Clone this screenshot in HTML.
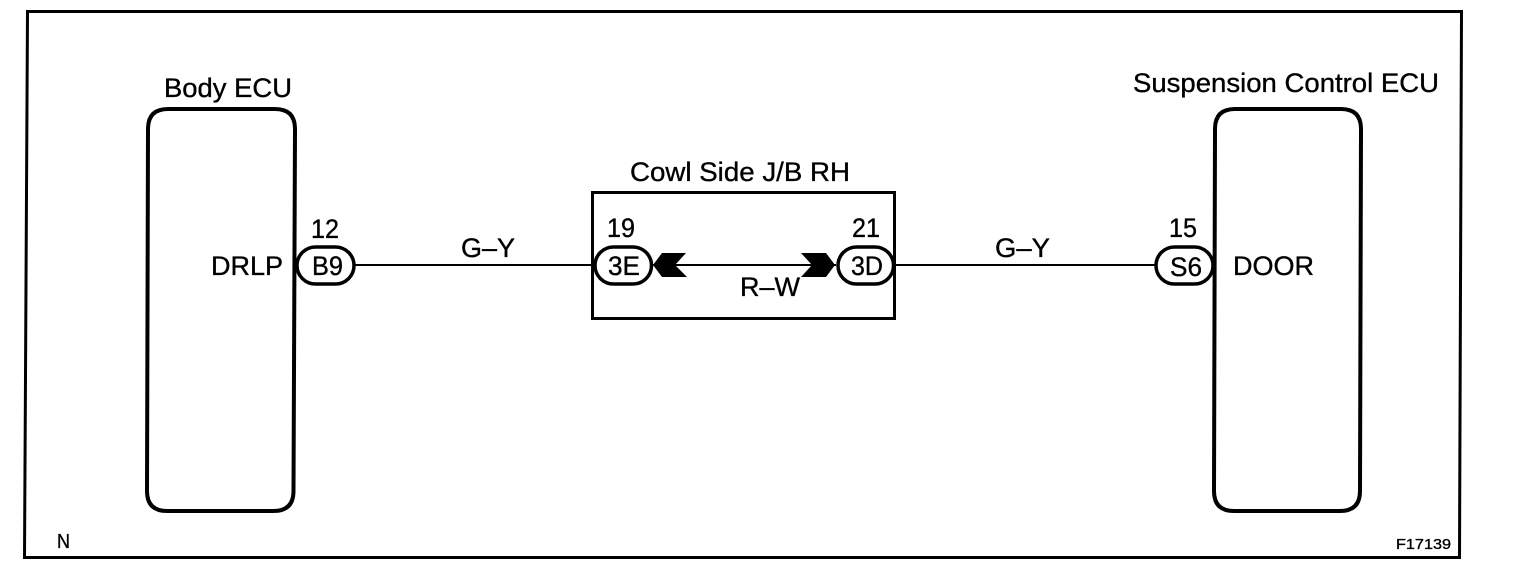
<!DOCTYPE html>
<html><head><meta charset="utf-8"><style>
html,body{margin:0;padding:0;background:#fff;width:1520px;height:574px;overflow:hidden}
svg{display:block}
text{font-family:"Liberation Sans",sans-serif;fill:#000;font-size:26.500px;stroke:#000;stroke-width:.35px}
</style></head><body>
<svg width="1520" height="574" viewBox="0 0 1520 574" xmlns="http://www.w3.org/2000/svg">
<rect width="1520" height="574" fill="#fff"/>
<g fill="none" stroke="#000">
<polygon points="27.500,11.500 1461.500,11.500 1459.500,557.500 24.500,557.500" stroke-width="3"/>
<path d="M168 109H275Q295 109 295 129L293.500 491Q293.500 511 273.500 511H167Q147 511 147 491L148 129Q148 109 168 109Z" stroke-width="4"/>
<path d="M1235 109H1341Q1361 109 1361 129L1360 491Q1360 511 1340 511H1234Q1214 511 1214 491L1215 129Q1215 109 1235 109Z" stroke-width="4"/>
<rect x="592.500" y="192.500" width="302" height="126" stroke-width="3"/>
<path d="M354 265H593M653 265H836M895 265H1155" stroke-width="2"/>
<rect x="297" y="247" width="57" height="37" rx="18.500" fill="#fff" stroke-width="3.500"/>
<rect x="595" y="247" width="56.500" height="37" rx="18.500" fill="#fff" stroke-width="3.500"/>
<rect x="838" y="247" width="55.500" height="37" rx="18.500" fill="#fff" stroke-width="3.500"/>
<rect x="1156" y="247" width="57" height="37" rx="18.500" fill="#fff" stroke-width="3.500"/>
</g>
<polygon points="653,265 662,253 686,253 675,265 687,277 662,277" fill="#000"/>
<polygon points="835,265 826,253 801,253 812,265 801,277 826,277" fill="#000"/>
<text x="164" y="97" textLength="128" lengthAdjust="spacingAndGlyphs">Body ECU</text>
<text x="1133" y="92" textLength="306" lengthAdjust="spacingAndGlyphs">Suspension Control ECU</text>
<text x="630" y="181" textLength="220" lengthAdjust="spacingAndGlyphs">Cowl Side J/B RH</text>
<text x="211" y="275" textLength="72" lengthAdjust="spacingAndGlyphs">DRLP</text>
<text x="1233" y="275" textLength="81" lengthAdjust="spacingAndGlyphs">DOOR</text>
<text x="311" y="238" textLength="28" lengthAdjust="spacingAndGlyphs">12</text>
<text x="607" y="237" textLength="28" lengthAdjust="spacingAndGlyphs">19</text>
<text x="852" y="237" textLength="28" lengthAdjust="spacingAndGlyphs">21</text>
<text x="1169" y="237" textLength="28" lengthAdjust="spacingAndGlyphs">15</text>
<text x="312" y="275" textLength="31" lengthAdjust="spacingAndGlyphs">B9</text>
<text x="608" y="275" textLength="32" lengthAdjust="spacingAndGlyphs">3E</text>
<text x="851" y="275" textLength="32" lengthAdjust="spacingAndGlyphs">3D</text>
<text x="1170" y="276" textLength="32" lengthAdjust="spacingAndGlyphs">S6</text>
<text x="461" y="257" textLength="54" lengthAdjust="spacingAndGlyphs">G–Y</text>
<text x="995" y="257" textLength="55" lengthAdjust="spacingAndGlyphs">G–Y</text>
<text x="740" y="296" textLength="60" lengthAdjust="spacingAndGlyphs">R–W</text>
<text x="57" y="548" textLength="13" lengthAdjust="spacingAndGlyphs" style="font-size:20px">N</text>
<text x="1396" y="549" textLength="55" lengthAdjust="spacingAndGlyphs" style="font-size:15px">F17139</text>
</svg>
</body></html>
